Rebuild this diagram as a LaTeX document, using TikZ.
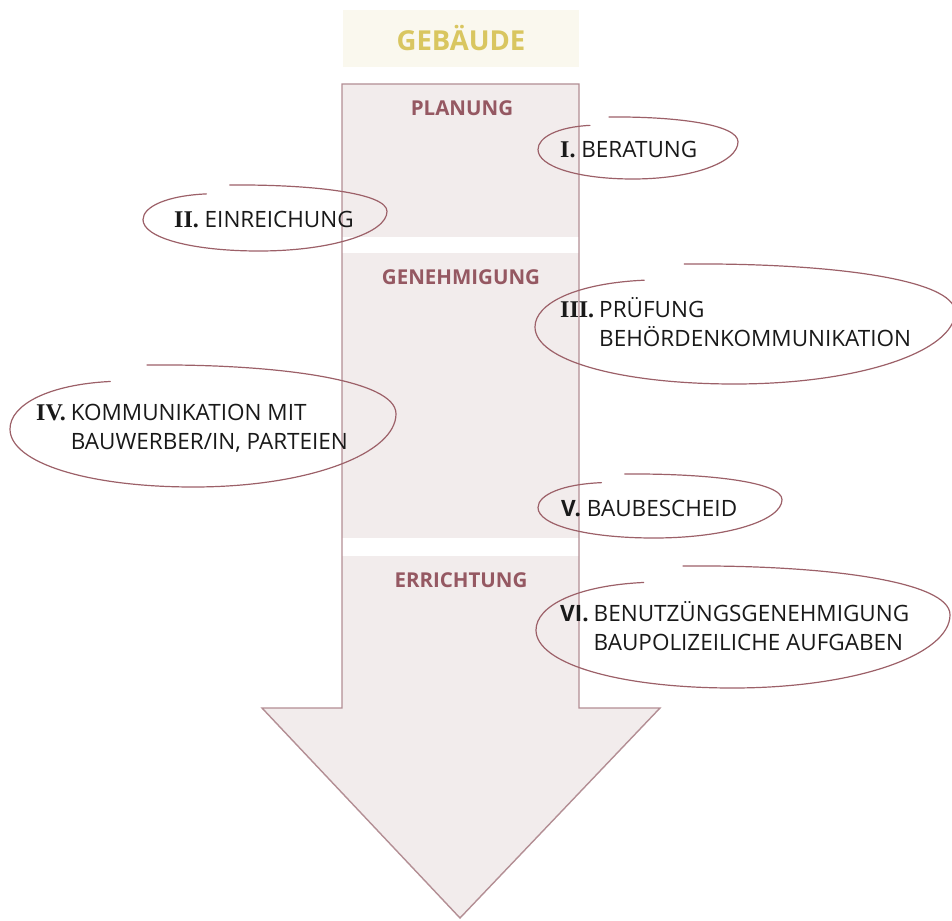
\documentclass[tikz,border=0pt]{standalone}
\usepackage{fontspec}
\setmainfont{Open Sans}
\newfontfamily\numfont{Liberation Serif}
\usetikzlibrary{positioning}

\definecolor{shaftfill}{HTML}{F2ECEC}
\definecolor{shaftline}{HTML}{B38E94}
\definecolor{ringcolor}{HTML}{9C6068}
\definecolor{stagetext}{HTML}{955862}
\definecolor{titlefill}{HTML}{FAF8EE}
\definecolor{titletext}{HTML}{D9C660}

% roman numeral in front of each task
\newcommand\serifnum[1]{{\numfont\bfseries\fontsize{24}{29}\selectfont #1}}
\newcommand\sansnum[1]{{\bfseries #1}}

\tikzset{
  ringline/.style={draw=ringcolor, line width=1.2pt, line cap=round, line join=round},
  % hand-drawn loop round a task, unit size, centred on the pic origin
  ring/.pic={
    \path[ringline] (-0.29,-1) .. controls (0.4,-1.02) and (1,-0.75) .. (1,-0.2)
      .. controls (1,0.45) and (0.55,1) .. (-0.05,1)
      .. controls (-0.6,1) and (-1,0.6) .. (-1,0.05)
      .. controls (-1,-0.35) and (-0.8,-0.68) .. (-0.48,-0.73);
  },
  stage/.style={font=\fontsize{20.5}{24}\selectfont\bfseries, text=stagetext, inner sep=0pt},
  task/.style={anchor=west, inner sep=0pt, text=black!90,
    font=\fontsize{22.5}{29}\selectfont},
}

\begin{document}
\begin{tikzpicture}[x=1pt, y=-1pt]
  \useasboundingbox (0,0) rectangle (952,920);

  % title
  \node (title) [fill=titlefill, minimum width=236pt, minimum height=57pt,
    inner sep=0pt, text=titletext, font=\fontsize{27.5}{30}\selectfont\bfseries]
    at (461,38.5) {GEBÄUDE};

  % downward arrow: fill, white breaks between stages, outline
  \fill[shaftfill] (342,84) -- (579,84) -- (579,708) -- (660,708) -- (460,918)
    -- (262,708) -- (342,708) -- cycle;
  \fill[white] (342,237) rectangle (579,253);
  \fill[white] (342,538) rectangle (579,556);
  \draw[shaftline, line width=1.4pt, line join=miter]
    (342,84) -- (579,84) -- (579,708) -- (660,708) -- (460,918)
    -- (262,708) -- (342,708) -- cycle;

  % stage headings
  \node[stage] (planung) at (462,108) {PLANUNG};
  \node[stage] (genehmigung) at (461,277) {GENEHMIGUNG};
  \node[stage] (errichtung) at (461,580) {ERRICHTUNG};

  % loops round the tasks
  \pic[xscale=100, yscale=31] at (638,148) {ring};
  \pic[xscale=122, yscale=33] at (265,218) {ring};
  \pic[xscale=210, yscale=60] at (745,324) {ring};
  \pic[xscale=193, yscale=61] at (203,426) {ring};
  \pic[xscale=122, yscale=32] at (660,506) {ring};
  \pic[xscale=207, yscale=61] at (743,627) {ring};

  % tasks
  \node[task] (beratung) at (560,150) {\serifnum{I.} BERATUNG};
  \node[task] (einreichung) at (174,220) {\serifnum{II.} EINREICHUNG};
  \node[task] (pruefung) at (560,326) {%
    \begin{tabular}{@{}l@{\hspace{5pt}}l@{}}
      \serifnum{III.} & PRÜFUNG\\
                      & BEHÖRDENKOMMUNIKATION
    \end{tabular}};
  \node[task] (kommunikation) at (36,429) {%
    \begin{tabular}{@{}l@{\hspace{5pt}}l@{}}
      \serifnum{IV.} & KOMMUNIKATION MIT\\
                     & BAUWERBER/IN, PARTEIEN
    \end{tabular}};
  \node[task] (baubescheid) at (561,508) {\sansnum{V.} BAUBESCHEID};
  \node[task] (benutzung) at (560,630) {%
    \begin{tabular}{@{}l@{\hspace{5pt}}l@{}}
      \sansnum{VI.} & BENUTZÜNGSGENEHMIGUNG\\
                    & BAUPOLIZEILICHE AUFGABEN
    \end{tabular}};
\end{tikzpicture}
\end{document}
